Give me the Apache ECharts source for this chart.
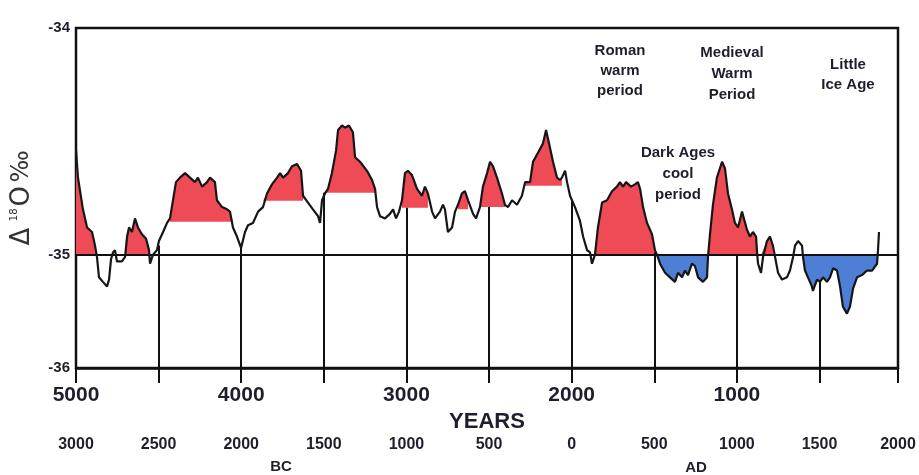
<!DOCTYPE html>
<html>
<head>
<meta charset="utf-8">
<script src="https://cdn.jsdelivr.net/npm/echarts@6/dist/echarts.min.js"></script>
<style>
html,body{margin:0;padding:0;background:#fff;}
#chart{width:919px;height:475px;}
</style>
</head>
<body>
<div id="chart"></div>
<script>
// ---- Data (years before present, relative to 2000 AD) ----
const yearsBP = [5000,4988,4958,4933,4903,4885,4873,4861,4837,4812,4800,4788,4776,4764,4752,4722,4703,4691,4679,4661,4643,4625,4601,4576,4558,4552,4534,4510,4498,4473,4449,4431,4395,4371,4340,4310,4280,4262,4237,4207,4189,4159,4147,4116,4086,4068,4050,4026,4001,3977,3959,3929,3898,3868,3844,3814,3783,3765,3747,3717,3693,3662,3638,3626,3596,3566,3535,3523,3511,3493,3475,3451,3426,3414,3390,3372,3348,3324,3311,3281,3239,3209,3190,3178,3160,3130,3100,3081,3063,3045,3027,3009,2991,2966,2936,2906,2888,2870,2845,2827,2797,2779,2767,2749,2724,2706,2688,2664,2646,2627,2597,2579,2555,2537,2512,2494,2476,2452,2422,2404,2385,2361,2331,2301,2282,2252,2234,2204,2174,2155,2137,2113,2089,2071,2059,2040,2028,2010,1980,1950,1931,1907,1889,1877,1859,1841,1816,1786,1756,1726,1708,1689,1671,1641,1617,1599,1586,1568,1544,1514,1496,1484,1465,1435,1405,1375,1356,1332,1314,1296,1272,1254,1235,1205,1181,1175,1163,1145,1121,1090,1072,1054,1030,1012,993,969,963,939,921,903,884,878,872,854,842,818,800,782,769,751,727,697,679,660,648,630,606,600,588,570,546,540,515,497,479,455,437,418,394,376,358,334,316,297,273,243,213,182,152,146,140];
const d18O = [-34.54,-34.66,-34.80,-34.88,-34.90,-34.96,-35.01,-35.10,-35.12,-35.14,-35.11,-35.02,-34.99,-34.98,-35.03,-35.03,-35.01,-34.92,-34.88,-34.90,-34.84,-34.88,-34.91,-34.93,-34.98,-35.04,-35.00,-34.98,-34.94,-34.90,-34.86,-34.84,-34.68,-34.66,-34.64,-34.66,-34.68,-34.66,-34.70,-34.68,-34.66,-34.68,-34.76,-34.79,-34.80,-34.81,-34.88,-34.92,-34.97,-34.90,-34.87,-34.86,-34.81,-34.79,-34.73,-34.69,-34.66,-34.64,-34.66,-34.64,-34.61,-34.60,-34.63,-34.74,-34.77,-34.80,-34.83,-34.86,-34.76,-34.73,-34.71,-34.64,-34.54,-34.45,-34.43,-34.44,-34.43,-34.46,-34.57,-34.59,-34.63,-34.67,-34.71,-34.79,-34.83,-34.84,-34.82,-34.80,-34.84,-34.81,-34.76,-34.64,-34.63,-34.65,-34.71,-34.74,-34.70,-34.73,-34.81,-34.84,-34.81,-34.78,-34.80,-34.90,-34.88,-34.81,-34.78,-34.73,-34.72,-34.76,-34.82,-34.84,-34.79,-34.70,-34.64,-34.59,-34.61,-34.66,-34.73,-34.78,-34.79,-34.76,-34.78,-34.74,-34.68,-34.68,-34.59,-34.55,-34.51,-34.45,-34.51,-34.59,-34.66,-34.67,-34.66,-34.63,-34.68,-34.74,-34.79,-34.85,-34.92,-34.98,-34.99,-35.04,-35.00,-34.88,-34.77,-34.76,-34.72,-34.70,-34.68,-34.70,-34.68,-34.70,-34.69,-34.68,-34.71,-34.79,-34.86,-34.91,-34.98,-35.00,-35.04,-35.08,-35.10,-35.12,-35.08,-35.10,-35.07,-35.09,-35.04,-35.05,-35.10,-35.12,-35.10,-35.01,-34.91,-34.78,-34.66,-34.59,-34.62,-34.73,-34.80,-34.86,-34.88,-34.81,-34.81,-34.89,-34.92,-34.90,-34.92,-34.99,-35.04,-35.08,-35.01,-34.94,-34.92,-34.96,-35.01,-35.08,-35.11,-35.10,-35.07,-35.01,-34.96,-34.94,-34.96,-35.01,-35.07,-35.10,-35.14,-35.16,-35.11,-35.12,-35.10,-35.12,-35.10,-35.06,-35.07,-35.14,-35.23,-35.26,-35.23,-35.15,-35.10,-35.09,-35.07,-35.07,-35.04,-34.98,-34.90];

// warm (red) shaded spans: start / end (BP) and the level they are shaded down to
const warmStart = [5000,4703,4440,3870,3515,3030,2690,2560,2300,1860,1180];
const warmEnd   = [4873,4540,4050,3620,3180,2850,2600,2400,2050,1484,770];
const warmBase  = [-35,-35,-34.855,-34.762,-34.727,-34.793,-34.80,-34.79,-34.696,-35,-35];
// cool (blue) shaded spans
const coolStart = [1490,610];
const coolEnd   = [1170,140];
const coolBase  = [-35,-35];

// vertical drop lines every 500 years
const dropYears = [4500,4000,3500,3000,2500,2000,1500,1000,500];
const dropTops  = [-34.96,-34.97,-34.727,-34.793,-34.79,-34.76,-34.99,-35.0,-35.12];

// axis ticks / labels
const xTickBP = [5000,4500,4000,3500,3000,2500,2000,1500,1000,500,25];
const xMainLabelBP = [5000,4000,3000,2000,1000];
const calLabelBP = [5000,4500,4000,3500,3000,2500,2000,1500,1000,500,25];
const calLabels  = ['3000','2500','2000','1500','1000','500','0','500','1000','1500','2000'];
const yTickValues = [-34,-35,-35.5];
const yTickLabels = ['-34','-35','-36'];

const X_MIN = 25, X_MAX = 5000, Y_MIN = -35.5, Y_MAX = -34;

function pairs(){ return yearsBP.map((y,i)=>[y,d18O[i]]); }
function fillData(s,e,base,warm){
  const out=[];
  yearsBP.forEach((y,i)=>{
    if (y<=s && y>=e){
      const v=d18O[i];
      out.push([y, warm?Math.max(v,base):Math.min(v,base)]);
    }
  });
  return out;
}

const series = [];
warmStart.forEach((s,i)=>{
  series.push({type:'line', data:fillData(s,warmEnd[i],warmBase[i],true), showSymbol:false, silent:true,
    lineStyle:{width:0,opacity:0}, areaStyle:{color:'#ef4b56',opacity:1,origin:warmBase[i]}, z:1, animation:false});
});
coolStart.forEach((s,i)=>{
  series.push({type:'line', data:fillData(s,coolEnd[i],coolBase[i],false), showSymbol:false, silent:true,
    lineStyle:{width:0,opacity:0}, areaStyle:{color:'#4d7fd6',opacity:1,origin:coolBase[i]}, z:1, animation:false});
});
series.push({
  type:'line', data:pairs(), showSymbol:false, silent:true, z:5, animation:false,
  lineStyle:{color:'#161616', width:2.2},
  markLine:{
    silent:true, symbol:['none','none'], animation:false,
    label:{show:false},
    lineStyle:{color:'#111', width:2, type:'solid'},
    data:[{yAxis:-35}].concat(dropYears.map((y,i)=>[{coord:[y,Y_MIN]},{coord:[y,dropTops[i]]}]))
  }
});

const txt = '#1e1e2c';
const chart = echarts.init(document.getElementById('chart'), null, {renderer:'canvas'});
chart.setOption({
  backgroundColor:'#ffffff',
  animation:false,
  grid:{left:76, right:21, top:28, bottom:107, show:true, borderColor:'#111', borderWidth:2.5, backgroundColor:'transparent'},
  xAxis:[{
    type:'value', min:X_MIN, max:X_MAX, inverse:true, position:'bottom',
    splitLine:{show:false},
    axisLine:{show:true, lineStyle:{color:'#111', width:2.5}},
    axisTick:{show:true, customValues:xTickBP, length:15, inside:false, lineStyle:{color:'#111', width:2}},
    axisLabel:{customValues:xMainLabelBP, margin:17, color:txt, fontSize:21, fontWeight:'bold', fontFamily:'Liberation Sans, Arial, sans-serif', formatter:v=>String(v)},
    name:'YEARS', nameLocation:'middle', nameGap:33,
    nameTextStyle:{color:txt, fontSize:22, fontWeight:'bold', fontFamily:'Liberation Sans, Arial, sans-serif', verticalAlign:'top'}
  },{
    type:'value', min:X_MIN, max:X_MAX, inverse:true, position:'bottom',
    splitLine:{show:false}, axisLine:{show:false}, axisTick:{show:false},
    axisLabel:{customValues:calLabelBP, margin:69, color:txt, fontSize:16, fontWeight:'bold',
      fontFamily:'Liberation Sans Narrow, Arial Narrow, Liberation Sans, sans-serif',
      formatter:v=>{const k=calLabelBP.indexOf(v); return k>=0?calLabels[k]:'';}}
  }],
  yAxis:{
    type:'value', min:Y_MIN, max:Y_MAX,
    splitLine:{show:false}, axisLine:{show:false}, axisTick:{show:false},
    axisLabel:{customValues:yTickValues, margin:6, color:txt, fontSize:15, fontWeight:'bold', fontFamily:'Liberation Sans, Arial, sans-serif',
      formatter:v=>{const k=yTickValues.indexOf(v); return k>=0?yTickLabels[k]:'';}},
    name:'{d|Δ}  {s|18}{d|O} {p|‰}', nameLocation:'middle', nameGap:41, nameRotate:90,
    nameTextStyle:{color:'#333', rich:{
      d:{fontSize:26, fontFamily:'DejaVu Sans, sans-serif', color:'#333'},
      s:{fontSize:10, fontFamily:'DejaVu Sans, sans-serif', color:'#333', verticalAlign:'top', padding:[0,2,14,0]},
      p:{fontSize:24, fontFamily:'DejaVu Sans, sans-serif', color:'#333'}
    }}
  },
  graphic:[
    {type:'text', x:620, y:71, style:{text:'Roman\nwarm\nperiod', fill:txt, font:'bold 15px "Liberation Sans", Arial', align:'center', verticalAlign:'middle', lineHeight:20}},
    {type:'text', x:732, y:74, style:{text:'Medieval\nWarm\nPeriod', fill:txt, font:'bold 15px "Liberation Sans", Arial', align:'center', verticalAlign:'middle', lineHeight:21}},
    {type:'text', x:848, y:75, style:{text:'Little\nIce Age', fill:txt, font:'bold 15px "Liberation Sans", Arial', align:'center', verticalAlign:'middle', lineHeight:20}},
    {type:'text', x:678, y:174, style:{text:'Dark Ages\ncool\nperiod', fill:txt, font:'bold 15px "Liberation Sans", Arial', align:'center', verticalAlign:'middle', lineHeight:21}},
    {type:'text', x:281, y:467, style:{text:'BC', fill:txt, font:'bold 15px "Liberation Sans", Arial', align:'center', verticalAlign:'middle'}},
    {type:'text', x:696, y:468, style:{text:'AD', fill:txt, font:'bold 15px "Liberation Sans", Arial', align:'center', verticalAlign:'middle'}}
  ],
  series: series
});
</script>
</body>
</html>
